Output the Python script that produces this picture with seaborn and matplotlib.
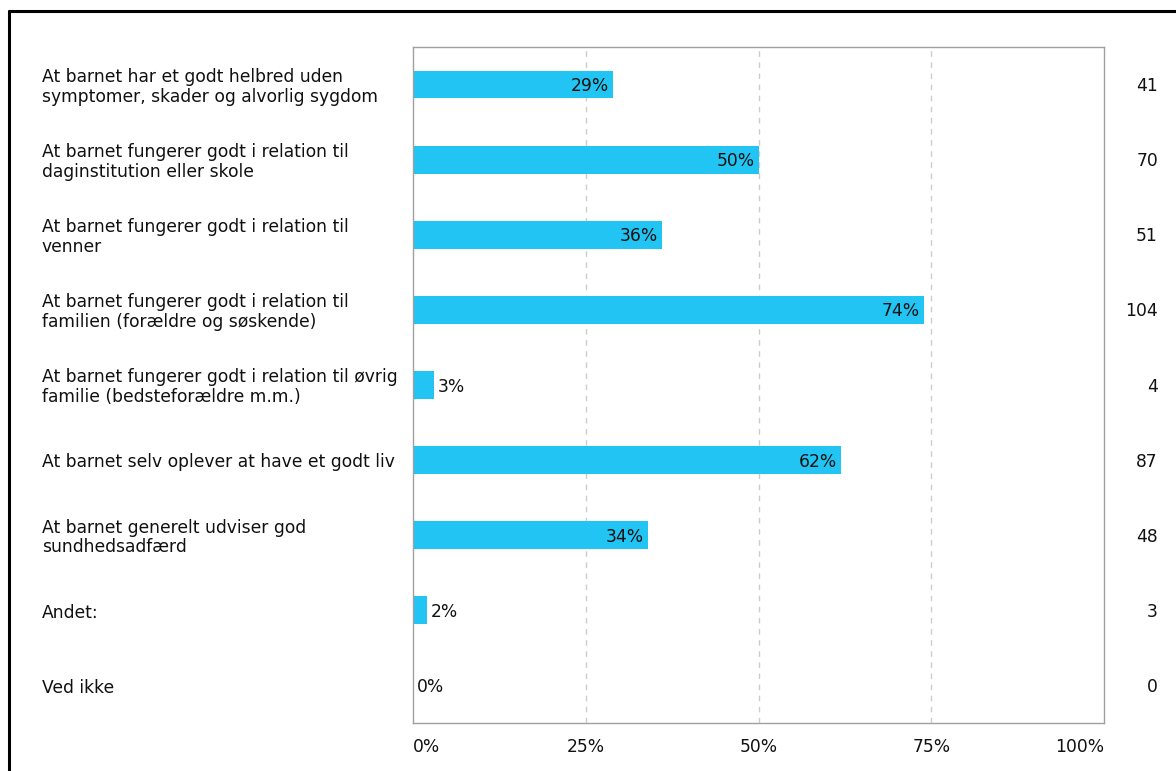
import matplotlib
matplotlib.use("Agg")
import matplotlib.pyplot as plt
import matplotlib.lines as mlines
import seaborn as sns
import pandas as pd

categories = [
    "At barnet har et godt helbred uden\nsymptomer, skader og alvorlig sygdom",
    "At barnet fungerer godt i relation til\ndaginstitution eller skole",
    "At barnet fungerer godt i relation til\nvenner",
    "At barnet fungerer godt i relation til\nfamilien (forældre og søskende)",
    "At barnet fungerer godt i relation til øvrig\nfamilie (bedsteforældre m.m.)",
    "At barnet selv oplever at have et godt liv",
    "At barnet generelt udviser god\nsundhedsadfærd",
    "Andet:",
    "Ved ikke",
]
percent = [29, 50, 36, 74, 3, 62, 34, 2, 0]
percent_labels = ["29%", "50%", "36%", "74%", "3%", "62%", "34%", "2%", "0%"]
counts = [41, 70, 51, 104, 4, 87, 48, 3, 0]
xticks = [0, 25, 50, 75, 100]
xtick_labels = ["0%", "25%", "50%", "75%", "100%"]

df = pd.DataFrame({"cat": categories, "pct": percent})

sns.set_style("white")
plt.rcParams["font.family"] = ["DejaVu Sans"]
FS = 12.3

fig = plt.figure(figsize=(11.76, 7.71), dpi=100)
ax = fig.add_axes([413 / 1176, 1 - 723 / 771, (1104 - 413) / 1176, (723 - 47) / 771])

sns.barplot(data=df, x="pct", y="cat", orient="h", color="#21C4F2",
            saturation=1, width=0.37, ax=ax, edgecolor="none")

ax.set_xlim(0, 100)
ax.set_ylim(len(categories) - 0.5, -0.5)
ax.set_xlabel("")
ax.set_ylabel("")
ax.set_yticks([])
ax.set_xticks(xticks)
ax.set_xticklabels(xtick_labels, fontsize=FS, color="#111111")
aligns = ["left", "center", "center", "center", "right"]
for lab, ha in zip(ax.get_xticklabels(), aligns):
    lab.set_horizontalalignment(ha)
ax.tick_params(axis="x", length=0, pad=11)

for x in [25, 50, 75]:
    ax.axvline(x, color="#cccccc", linestyle=(0, (4, 4)), linewidth=1, zorder=0)

for sp in ax.spines.values():
    sp.set_color("#a0a0a0")
    sp.set_linewidth(1)

for i, (cat, p, pl, c) in enumerate(zip(categories, percent, percent_labels, counts)):
    if p >= 10:
        ax.text(p - 0.6, i + 0.02, pl, ha="right", va="center", fontsize=FS, color="#111111")
    else:
        ax.text(p + 0.6, i + 0.02, pl, ha="left", va="center", fontsize=FS, color="#111111")
    ax.text(-53.7, i + 0.03, cat, ha="left", va="center", fontsize=FS, color="#111111",
            linespacing=1.12, clip_on=False)
    ax.text(107.8, i + 0.02, str(c), ha="right", va="center", fontsize=FS, color="#111111",
            clip_on=False)

# outer frame (left and top edges)
fig.add_artist(mlines.Line2D([9 / 1176, 9 / 1176], [0, 1 - 11 / 771],
                             transform=fig.transFigure, color="black", linewidth=2.2))
fig.add_artist(mlines.Line2D([9 / 1176, 1], [1 - 11 / 771, 1 - 11 / 771],
                             transform=fig.transFigure, color="black", linewidth=2.2))

fig.savefig("out.png", dpi=100)
